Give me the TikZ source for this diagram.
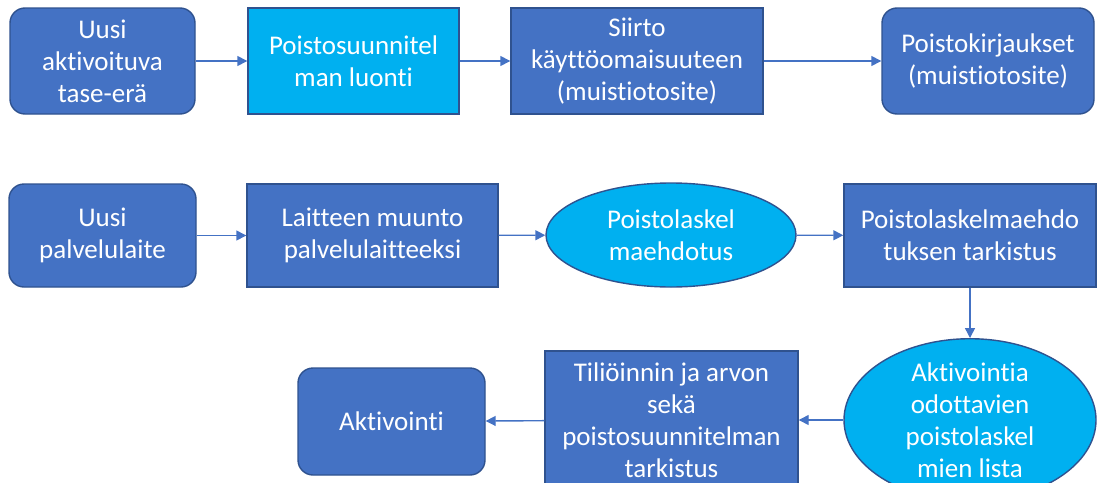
\documentclass[tikz,border=0pt]{standalone}
\usepackage{fontspec}
\setmainfont[Ligatures={NoCommon}]{Carlito}
\usetikzlibrary{shapes.geometric,arrows.meta}
\definecolor{boxblue}{HTML}{4472C4}
\definecolor{boxline}{HTML}{2F528F}
\definecolor{skyblue}{HTML}{00B0F0}

\begin{document}
\begin{tikzpicture} [
                x=0.5pt, y=-0.5pt,
                base/.style={draw=boxline, line width=0.7pt, text=white, align=center, inner sep=1pt,
                    font=\fontsize{13.5}{16}\selectfont},
                box/.style={base, rectangle, fill=boxblue},
                rbox/.style={box, rounded corners=7.5pt},
                cbox/.style={base, rectangle, fill=skyblue},
                ebox/.style={base, ellipse, fill=skyblue, inner sep=0pt},
                edge/.style = {draw=boxblue, line width=0.7pt, -{Triangle[length=5pt,width=5pt]}},
            ]
            \useasboundingbox (0,0) rectangle (1101,482);
            % ylarivi
            \node[rbox, minimum width=92.5pt, minimum height=53pt] (uusi) at (102.5,61) {Uusi\\aktivoituva\\tase-erä};
            \node[cbox, minimum width=105.5pt, minimum height=53pt] (luonti) at (353.5,61) {Poistosuunnitel\\man luonti};
            \node[box, minimum width=126pt, minimum height=53pt] (siirto) at (637,61) {Siirto\\käyttöomaisuuteen\\(muistiotosite)};
            \node[rbox, minimum width=106pt, minimum height=53pt] (kirjaus) at (988,61) {Poistokirjaukset\\(muistiotosite)};
            % keskirivi
            \node[rbox, minimum width=93.5pt, minimum height=51.5pt] (laite) at (102.5,235.5) {Uusi\\palvelulaite};
            \node[box, minimum width=125.5pt, minimum height=51.5pt] (muunto) at (372.5,235.5) {Laitteen muunto\\palvelulaitteeksi};
            \node[ebox, minimum width=125pt, minimum height=52pt] (ehdotus) at (671,235) {Poistolaskel\\maehdotus};
            \node[box, minimum width=126pt, minimum height=51.5pt] (tarkistus) at (970,235.5) {Poistolaskelmaehdo\\tuksen tarkistus};
            % alarivi
            \node[ebox, minimum width=126pt, minimum height=70pt] (lista) at (970,420) {Aktivointia\\odottavien\\poistolaskel\\mien lista};
            \node[box, minimum width=126.5pt, minimum height=69pt] (tilio) at (671.5,420) {Tiliöinnin ja arvon\\sekä\\poistosuunnitelman\\tarkistus};
            \node[rbox, minimum width=93.5pt, minimum height=53.5pt] (aktiv) at (391.5,421.5) {Aktivointi};
            \foreach \source/ \dest in {
                    uusi/luonti,luonti/siirto,siirto/kirjaus,
                    laite/muunto,muunto/ehdotus,ehdotus/tarkistus,
                    tarkistus/lista,lista/tilio,tilio/aktiv}
                \path[edge] (\source) -- (\dest);
        \end{tikzpicture}
\end{document}
